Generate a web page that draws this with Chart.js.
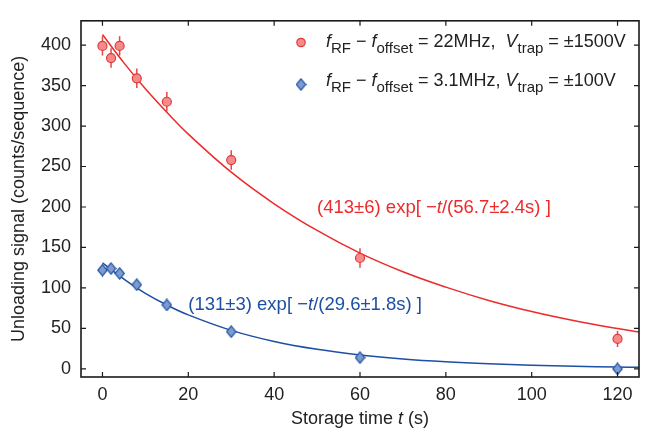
<!DOCTYPE html>
<html lang="en">
<head>
<meta charset="UTF-8">
<title>Unloading signal vs storage time</title>
<script src="https://cdn.jsdelivr.net/npm/chart.js"></script>
<style>
  html, body { margin: 0; padding: 0; background: #fff; }
</style>
</head>
<body>
<canvas id="decayChart" width="646" height="432"></canvas>

<script>
  // measured points (storage time in s)
  const times = [0, 2, 4, 8, 15, 30, 60, 120];
  const highSignal = [399, 384, 399, 359, 330, 258, 137, 37];
  const highErr = [12, 12, 12, 12, 12, 12, 12, 10];
  const lowSignal = [122, 124, 118, 104, 79, 46, 14, 0];

  // fitted curves
  const fitTimes = [0, 5, 10, 15, 20, 30, 40, 50, 60, 70, 80, 90, 100, 110, 120, 125];
  const highFit = [413, 378, 346, 317, 290, 243, 204, 171, 143, 120, 101, 84.5, 70.8, 59.4, 49.8, 45.6];
  const lowFit = [131, 111, 93.4, 78.9, 66.7, 47.6, 33.9, 24.2, 17.3, 12.3, 8.8, 6.3, 4.5, 3.2, 2.3, 1.9];

  const xTicks = [0, 20, 40, 60, 80, 100, 120];
  const yTicks = [0, 50, 100, 150, 200, 250, 300, 350, 400];

  const FONT = '"Liberation Sans", Arial, sans-serif';
  const RED = '#ee2a2a';
  const BLUE = '#1d4fa3';

  // slightly tall diamond marker, like the original
  function makeDiamond() {
    const c = document.createElement('canvas');
    c.width = 11; c.height = 13;
    const g = c.getContext('2d');
    g.fillStyle = '#7c9bcf';
    g.strokeStyle = '#2556a6';
    g.lineWidth = 1.2;
    g.beginPath();
    g.moveTo(5.5, 0.8); g.lineTo(10.2, 6.5); g.lineTo(5.5, 12.2); g.lineTo(0.8, 6.5);
    g.closePath(); g.fill(); g.stroke();
    return c;
  }
  const diamond = makeDiamond();

  function drawRuns(ctx, x, y, runs, size, color) {
    ctx.fillStyle = color;
    ctx.textAlign = 'left';
    ctx.textBaseline = 'alphabetic';
    runs.forEach(r => {
      const sz = r.sub ? size - 3 : size;
      ctx.font = (r.it ? 'italic ' : '') + sz + 'px ' + FONT;
      ctx.fillText(r.t, x, y + (r.sub ? 6 : 0));
      x += ctx.measureText(r.t).width;
    });
  }

  const decor = {
    id: 'decor',
    beforeDatasetsDraw(chart) {
      const { ctx, scales: { x, y } } = chart;
      ctx.save();
      ctx.strokeStyle = '#e84545';
      ctx.lineWidth = 1.5;
      times.forEach((t, i) => {
        const px = x.getPixelForValue(t);
        ctx.beginPath();
        ctx.moveTo(px, y.getPixelForValue(highSignal[i] - highErr[i]));
        ctx.lineTo(px, y.getPixelForValue(highSignal[i] + highErr[i]));
        ctx.stroke();
      });
      ctx.restore();
    },
    afterDraw(chart) {
      const { ctx, chartArea: a, scales: { x, y } } = chart;
      ctx.save();

      // frame and inward ticks
      ctx.strokeStyle = '#1a1a1a';
      ctx.lineWidth = 1.6;
      ctx.strokeRect(a.left, a.top, a.right - a.left, a.bottom - a.top);
      ctx.lineWidth = 1.2;
      ctx.beginPath();
      xTicks.forEach(v => {
        const px = x.getPixelForValue(v);
        ctx.moveTo(px, a.bottom); ctx.lineTo(px, a.bottom - 5);
        ctx.moveTo(px, a.top); ctx.lineTo(px, a.top + 5);
      });
      yTicks.forEach(v => {
        const py = y.getPixelForValue(v);
        ctx.moveTo(a.left, py); ctx.lineTo(a.left + 5, py);
        ctx.moveTo(a.right, py); ctx.lineTo(a.right - 5, py);
      });
      ctx.stroke();

      // axis titles
      const xt = [{ t: 'Storage time ' }, { t: 't', it: true }, { t: ' (s)' }];
      let w = 0;
      xt.forEach(r => { ctx.font = (r.it ? 'italic ' : '') + '18px ' + FONT; w += ctx.measureText(r.t).width; });
      drawRuns(ctx, (a.left + a.right) / 2 - w / 2, 424, xt, 18, '#222');

      ctx.save();
      ctx.translate(24, (a.top + a.bottom) / 2);
      ctx.rotate(-Math.PI / 2);
      ctx.font = '18px ' + FONT;
      ctx.fillStyle = '#222';
      ctx.textAlign = 'center';
      ctx.fillText('Unloading signal (counts/sequence)', 0, 0);
      ctx.restore();

      // legend
      const lx = 301;
      ctx.lineWidth = 1.2;
      ctx.fillStyle = '#f58a8a';
      ctx.strokeStyle = '#e03a3a';
      ctx.beginPath(); ctx.arc(lx, 42.5, 4.2, 0, Math.PI * 2); ctx.fill(); ctx.stroke();
      ctx.drawImage(diamond, lx - 5.5, 84.5 - 6.5);

      drawRuns(ctx, 326, 47, [
        { t: 'f', it: true }, { t: 'RF', sub: true }, { t: ' \u2212 ' }, { t: 'f', it: true },
        { t: 'offset', sub: true }, { t: ' = 22MHz,  ' }, { t: 'V', it: true },
        { t: 'trap', sub: true }, { t: ' = \u00b11500V' }
      ], 18, '#222');
      drawRuns(ctx, 326, 86, [
        { t: 'f', it: true }, { t: 'RF', sub: true }, { t: ' \u2212 ' }, { t: 'f', it: true },
        { t: 'offset', sub: true }, { t: ' = 3.1MHz, ' }, { t: 'V', it: true },
        { t: 'trap', sub: true }, { t: ' = \u00b1100V' }
      ], 18, '#222');

      // fit labels
      drawRuns(ctx, x.getPixelForValue(50), y.getPixelForValue(192), [
        { t: '(413\u00b16) exp[ \u2212' }, { t: 't', it: true }, { t: '/(56.7\u00b12.4s) ]' }
      ], 18.5, RED);
      drawRuns(ctx, x.getPixelForValue(20), y.getPixelForValue(72.5), [
        { t: '(131\u00b13) exp[ \u2212' }, { t: 't', it: true }, { t: '/(29.6\u00b11.8s) ]' }
      ], 18.5, BLUE);

      ctx.restore();
    }
  };

  const tickFont = { family: FONT, size: 18 };

  new Chart(document.getElementById('decayChart'), {
    type: 'line',
    data: {
      datasets: [
        {
          label: 'high fit',
          data: fitTimes.map((t, i) => ({ x: t, y: highFit[i] })),
          borderColor: RED, borderWidth: 1.5, pointRadius: 0, tension: 0.4, order: 2
        },
        {
          label: 'low fit',
          data: fitTimes.map((t, i) => ({ x: t, y: lowFit[i] })),
          borderColor: BLUE, borderWidth: 1.5, pointRadius: 0, tension: 0.4, order: 2
        },
        {
          label: '22MHz, ±1500V',
          data: times.map((t, i) => ({ x: t, y: highSignal[i] })),
          showLine: false, pointStyle: 'circle', pointRadius: 4.5,
          pointBackgroundColor: '#f58a8a', pointBorderColor: '#e03a3a', pointBorderWidth: 1.2, order: 0
        },
        {
          label: '3.1MHz, ±100V',
          data: times.map((t, i) => ({ x: t, y: lowSignal[i] })),
          showLine: false, pointStyle: diamond, pointRadius: 6, order: 0
        }
      ]
    },
    options: {
      responsive: false,
      animation: false,
      layout: { padding: { top: 9, right: 5, left: 0, bottom: 0 } },
      plugins: { legend: { display: false }, tooltip: { enabled: false } },
      scales: {
        x: {
          type: 'linear', min: -5, max: 125,
          grid: { display: false, drawTicks: false }, border: { display: false },
          ticks: { font: tickFont, color: '#222', padding: 7, maxRotation: 0 },
          afterBuildTicks: s => { s.ticks = xTicks.map(v => ({ value: v })); },
          afterFit: s => { s.height = 55; }
        },
        y: {
          type: 'linear', min: -10, max: 430,
          grid: { display: false, drawTicks: false }, border: { display: false },
          ticks: { font: tickFont, color: '#222', padding: 10 },
          afterBuildTicks: s => { s.ticks = yTicks.map(v => ({ value: v })); },
          afterFit: s => { s.width = 81; }
        }
      }
    },
    plugins: [decor]
  });
</script>
</body>
</html>
